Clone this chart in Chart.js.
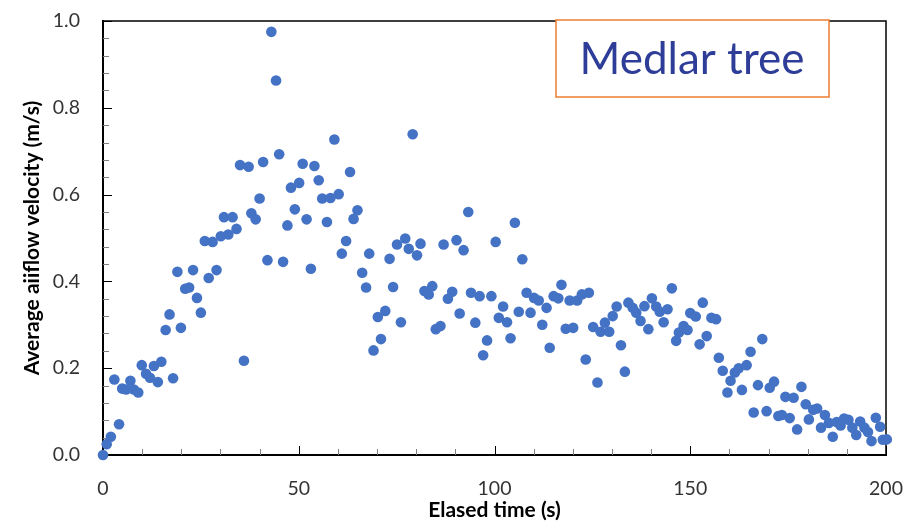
<!DOCTYPE html>
<html>
<head>
<meta charset="utf-8">
<script src="https://cdn.jsdelivr.net/npm/chart.js@4"></script>
<style>
  html, body { margin: 0; padding: 0; background: #fff; }
  #wrap { width: 916px; height: 523px; }
</style>
</head>
<body>
<div id="wrap"><canvas id="chart" width="916" height="523"></canvas></div>
<script>
// Elapsed time (s) and average airflow velocity (m/s)
const timeS = [
  0, 0.95, 2, 2.9, 4.1, 4.9, 5.9, 7, 7.9, 9, 9.9, 11, 12, 13, 14, 14.9, 16, 17, 17.9, 19,
  19.9, 21, 22, 23, 24, 25, 26, 27, 28, 29, 30.1, 30.9, 32, 33.1, 34.1, 35, 36, 37.2, 37.9, 39,
  40, 40.9, 42, 43, 44.2, 45, 46, 47.1, 48, 49, 50.1, 51, 52, 53.1, 54, 55.1, 56, 57.2, 58.1, 59.1,
  60.2, 61, 62.1, 63.1, 64, 65, 66.2, 67.2, 68, 69.1, 70.2, 71, 72.1, 73.2, 74.1, 75.1, 76.1, 77.2, 78.1, 79.1,
  80.2, 81.1, 82.1, 83.2, 84.1, 85, 86.2, 87, 88.1, 89.2, 90.3, 91.1, 92.1, 93.3, 94, 95.1, 96.2, 97.1, 98.1, 99.2,
  100.3, 101.1, 102.2, 103.2, 104.1, 105.2, 106.2, 107.1, 108.2, 109.2, 110.1, 111.3, 112.2, 113.3, 114.1, 115.1, 116.3, 117.1, 118.2, 119.2,
  120.1, 121.1, 122.3, 123.3, 124.1, 125.2, 126.3, 127.1, 128.2, 129.3, 130.2, 131.2, 132.3, 133.3, 134.2, 135.3, 136.2, 137.3, 138.3, 139.3,
  140.2, 141.3, 142.2, 143.2, 144.2, 145.3, 146.4, 147.1, 148.3, 149.3, 150, 151.4, 152.4, 153.2, 154.2, 155.4, 156.6, 157.3, 158.3, 159.5,
  160.3, 161.4, 162.4, 163.2, 164.4, 165.4, 166.2, 167.3, 168.4, 169.5, 170.3, 171.4, 172.5, 173.4, 174.3, 175.4, 176.4, 177.3, 178.4, 179.5,
  180.3, 181.4, 182.4, 183.4, 184.4, 185.4, 186.4, 187.4, 188.4, 189.3, 190.4, 191.4, 192.4, 193.4, 194.5, 195.4, 196.3, 197.4, 198.5, 199.2,
  200.2
];
const velocity = [
  0, 0.025, 0.042, 0.174, 0.071, 0.153, 0.151, 0.171, 0.151, 0.144, 0.207, 0.187, 0.178, 0.205, 0.168, 0.215, 0.288, 0.324, 0.177, 0.422,
  0.293, 0.383, 0.386, 0.426, 0.362, 0.328, 0.493, 0.408, 0.491, 0.426, 0.504, 0.548, 0.508, 0.548, 0.521, 0.668, 0.217, 0.664, 0.557, 0.543,
  0.591, 0.675, 0.449, 0.975, 0.863, 0.693, 0.445, 0.529, 0.616, 0.566, 0.627, 0.671, 0.543, 0.429, 0.666, 0.633, 0.591, 0.537, 0.592, 0.727,
  0.601, 0.464, 0.493, 0.652, 0.544, 0.564, 0.42, 0.386, 0.464, 0.241, 0.318, 0.267, 0.332, 0.452, 0.387, 0.485, 0.306, 0.499, 0.475, 0.739,
  0.46, 0.487, 0.378, 0.37, 0.389, 0.29, 0.297, 0.485, 0.36, 0.376, 0.495, 0.326, 0.472, 0.56, 0.374, 0.305, 0.366, 0.23, 0.264, 0.366,
  0.491, 0.316, 0.342, 0.306, 0.269, 0.535, 0.33, 0.451, 0.374, 0.328, 0.362, 0.356, 0.3, 0.339, 0.247, 0.366, 0.361, 0.392, 0.291, 0.356,
  0.293, 0.356, 0.37, 0.22, 0.374, 0.295, 0.167, 0.284, 0.305, 0.284, 0.32, 0.342, 0.253, 0.192, 0.351, 0.339, 0.328, 0.309, 0.343, 0.29,
  0.361, 0.342, 0.33, 0.306, 0.336, 0.384, 0.263, 0.282, 0.297, 0.288, 0.327, 0.319, 0.255, 0.351, 0.274, 0.316, 0.313, 0.224, 0.194, 0.144,
  0.171, 0.19, 0.2, 0.15, 0.207, 0.238, 0.098, 0.161, 0.267, 0.101, 0.155, 0.169, 0.09, 0.092, 0.134, 0.085, 0.132, 0.059, 0.157, 0.117,
  0.082, 0.104, 0.107, 0.063, 0.092, 0.074, 0.042, 0.076, 0.068, 0.084, 0.081, 0.063, 0.046, 0.077, 0.063, 0.053, 0.032, 0.086, 0.065, 0.035,
  0.036
];
const xTicks = [0, 50, 100, 150, 200];
const yTicks = [0, 0.2, 0.4, 0.6, 0.8, 1.0];
const xMinorStep = 10;
const yMinorStep = 0.04;
const chartLabel = 'Medlar tree';

const FONT = "Lato, 'Open Sans', sans-serif";

// inside-pointing ticks, frame and the label box
const framePlugin = {
  id: 'frame',
  beforeDatasetsDraw(chart) {
    const { ctx, chartArea: a, scales: { x, y } } = chart;
    ctx.save();
    ctx.strokeStyle = '#000';
    ctx.lineWidth = 1.5;
    ctx.strokeRect(a.left, a.top, a.right - a.left, a.bottom - a.top);

    for (let i = 0; i * yMinorStep <= 1.0001; i++) {
      const v = i * yMinorStep;
      const major = i % 5 === 0;
      const py = Math.round(y.getPixelForValue(v)) + 0.5;
      ctx.strokeStyle = major ? '#000' : '#7f7f7f';
      ctx.lineWidth = 1;
      ctx.beginPath();
      ctx.moveTo(a.left, py);
      ctx.lineTo(a.left + (major ? 9 : 6), py);
      ctx.stroke();
    }
    for (let v = 0; v <= 200; v += xMinorStep) {
      const major = v % 50 === 0;
      const px = Math.round(x.getPixelForValue(v)) + 0.5;
      ctx.strokeStyle = major ? '#000' : '#7f7f7f';
      ctx.lineWidth = 1;
      ctx.beginPath();
      ctx.moveTo(px, a.bottom);
      ctx.lineTo(px, a.bottom - (major ? 9 : 6));
      ctx.stroke();
    }
    ctx.restore();
  },
  afterDraw(chart) {
    const ctx = chart.ctx;
    ctx.save();
    ctx.fillStyle = '#fff';
    ctx.fillRect(556, 20, 273, 77);
    ctx.strokeStyle = '#ED7D31';
    ctx.lineWidth = 1.5;
    ctx.strokeRect(556, 20, 273, 77);
    ctx.fillStyle = '#2E3D98';
    ctx.font = '44px ' + FONT;
    ctx.textAlign = 'center';
    ctx.textBaseline = 'middle';
    ctx.fillText(chartLabel, 692, 60);
    ctx.restore();
  }
};

new Chart(document.getElementById('chart'), {
  type: 'scatter',
  data: {
    datasets: [{
      label: 'Airflow',
      data: timeS.map((t, i) => ({ x: t, y: velocity[i] })),
      backgroundColor: '#4472C4',
      borderWidth: 0,
      pointRadius: 5.3,
      clip: false
    }]
  },
  options: {
    responsive: false,
    animation: false,
    events: [],
    layout: { padding: { left: 0, top: 21, right: 30, bottom: 0 } },
    plugins: { legend: { display: false }, tooltip: { enabled: false } },
    scales: {
      x: {
        type: 'linear',
        min: 0, max: 200,
        afterBuildTicks: s => { s.ticks = xTicks.map(v => ({ value: v })); },
        afterFit: s => { s.height = 68; s.paddingLeft = 0; s.paddingRight = 0; },
        grid: { display: false, drawTicks: false },
        border: { display: true, color: '#000', width: 2 },
        ticks: { color: '#333', font: { family: FONT, size: 19.5 }, padding: 22, maxRotation: 0 },
        title: { display: true, text: 'Elased time (s)', color: '#000', font: { family: FONT, size: 21, weight: 'bold' }, padding: { top: 0, bottom: 0 } }
      },
      y: {
        type: 'linear',
        min: 0, max: 1,
        afterBuildTicks: s => { s.ticks = yTicks.map(v => ({ value: v })); },
        afterFit: s => { s.width = 103; s.paddingTop = 0; s.paddingBottom = 0; },
        grid: { display: false, drawTicks: false },
        border: { display: true, color: '#000', width: 2 },
        ticks: { color: '#333', font: { family: FONT, size: 19.5 }, padding: 23, callback: v => Number(v).toFixed(1) },
        title: { display: true, text: 'Average aiiflow velocity (m/s)', color: '#000', font: { family: FONT, size: 21, weight: 'bold' }, padding: { top: 20, bottom: 0 } }
      }
    }
  },
  plugins: [framePlugin]
});
</script>
</body>
</html>
